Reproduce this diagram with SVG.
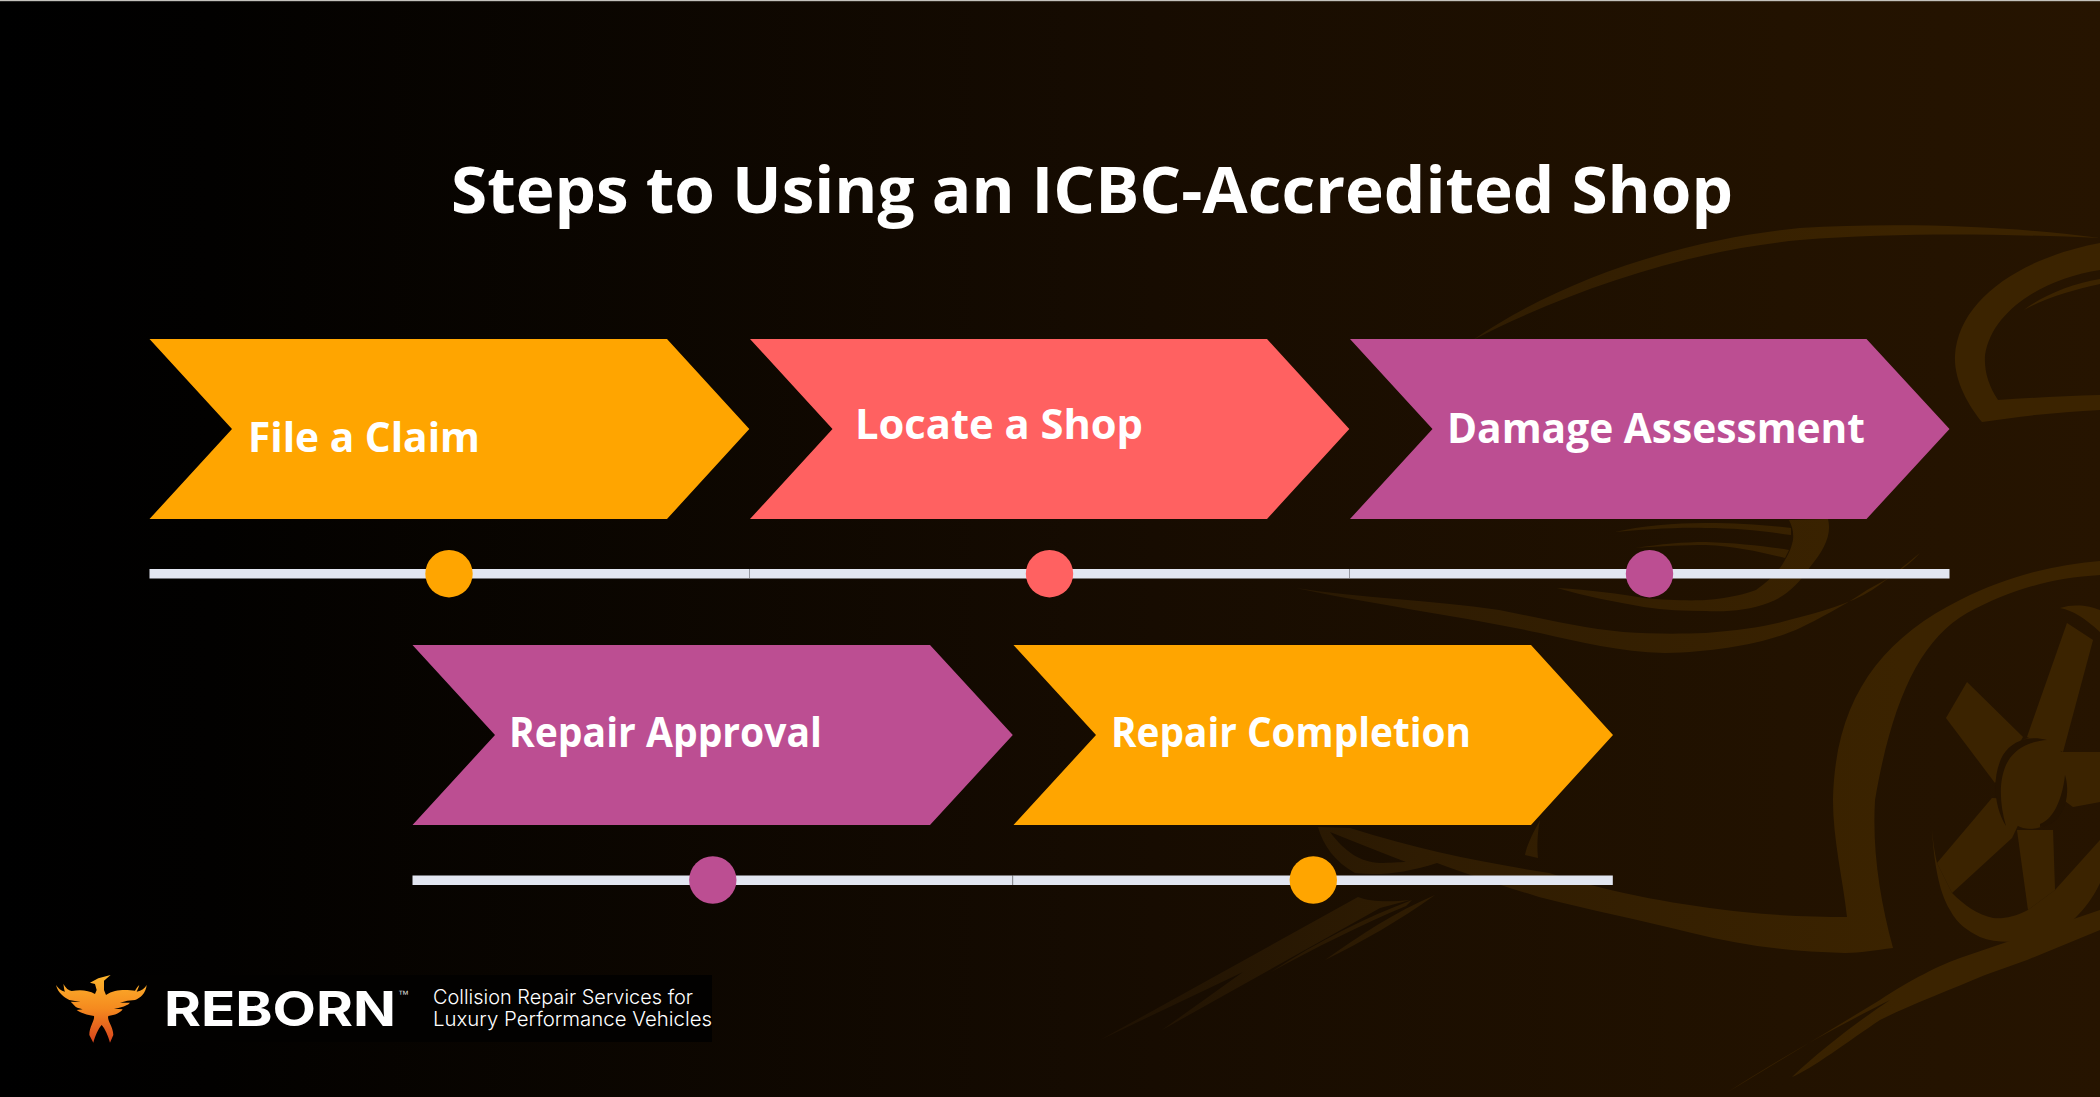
<svg xmlns="http://www.w3.org/2000/svg" width="2100" height="1097" viewBox="0 0 2100 1097">
<defs>
<linearGradient id="bg" x1="0" y1="0" x2="1" y2="0"><stop offset="0" stop-color="#000"/><stop offset=".1" stop-color="#020100"/><stop offset=".55" stop-color="#170c01"/><stop offset=".85" stop-color="#221200"/><stop offset="1" stop-color="#261400"/></linearGradient>
<linearGradient id="car" gradientUnits="userSpaceOnUse" x1="1100" y1="0" x2="1900" y2="0"><stop offset="0" stop-color="#1f1203"/><stop offset=".4" stop-color="#2f1c02"/><stop offset="1" stop-color="#3b2300"/></linearGradient>
<linearGradient id="fire" x1="0" y1="0" x2="0" y2="1"><stop offset="0" stop-color="#fdb52c"/><stop offset=".5" stop-color="#f58a1f"/><stop offset="1" stop-color="#d8431c"/></linearGradient>
<style>
.car{fill:url(#car)}
.gap{fill:#241300}
.amber{fill:#ffa500}
.coral{fill:#ff6161}
.plum{fill:#bc4e92}
.track{fill:#e2e6f1}
.seam{fill:#8d909a}
.lbl{font-family:"Open Sans","Noto Sans",sans-serif;font-weight:700;font-size:41px;fill:#fff}
.title{font-family:"Open Sans","Noto Sans",sans-serif;font-weight:700;font-size:64px;fill:#fff}
.brand{font-family:"Inter","Liberation Sans",sans-serif;font-weight:700;font-size:48px;fill:#fff}
.tag{font-family:"Inter","Liberation Sans",sans-serif;font-weight:300;font-size:20px;fill:#fff}
.tm{font-family:"Liberation Sans",sans-serif;font-size:11px;fill:#ddd}
</style>
</defs>
<rect width="2100" height="1097" fill="url(#bg)"/>
<rect width="2100" height="1.2" fill="#c4c2bd"/>
<g id="car-backdrop">
<path class="car" d="M1473 340C1560 280 1680 240 1800 228C1900 222 2010 226 2100 238C2010 234 1900 232 1800 240C1690 250 1570 290 1473 340Z"/>
<path class="car" d="M2100 243C2020 258 1958 300 1955 356C1954 380 1968 405 1982 422C2020 416 2060 412 2100 410L2100 395C2065 396 2030 398 1998 400C1988 385 1984 370 1985 355C1992 310 2045 278 2100 270Z"/>
<path class="car" d="M2024 310C2045 294 2072 284 2100 279L2100 284C2072 290 2045 298 2024 310Z"/>
<path class="car" d="M1296 588C1360 598 1430 600 1499 610C1540 618 1580 628 1623 632C1650 634 1680 634 1706 633C1740 630 1765 627 1789 620C1820 612 1850 604 1872 590C1890 578 1905 565 1920 553C1905 570 1885 580 1867 590C1840 608 1820 618 1800 628C1770 642 1720 652 1665 653C1620 652 1580 642 1540 633C1460 616 1370 604 1296 588Z"/>
<path class="car" d="M1557 588C1590 590 1620 594 1644 598C1665 600 1690 601 1706 600C1730 598 1745 594 1756 590C1770 580 1780 570 1785 560C1790 552 1792 545 1793 540C1794 532 1792 526 1789 520L1828 519C1832 535 1824 550 1810 567C1798 585 1785 597 1768 603C1750 610 1728 612 1706 611C1685 611 1665 610 1644 607C1615 602 1585 596 1557 588Z"/>
<path class="car" d="M1615 532C1640 526 1675 523 1706 523C1735 523 1765 525 1791 528L1791 535C1765 531 1735 528 1706 528C1675 527 1640 530 1615 532Z"/>
<path class="car" d="M1636 548C1660 544 1685 542 1706 542C1735 543 1765 546 1789 550L1785 558C1760 552 1735 546 1706 545C1685 545 1660 546 1636 548Z"/>
<path class="car" d="M1318 827L1350 828C1420 850 1480 862 1549 873C1620 895 1680 905 1743 912C1780 916 1815 917 1847 917C1843 880 1833 840 1833 800C1835 700 1880 640 1960 600C2010 575 2055 565 2100 561L2100 575C2050 578 2010 590 1967 613C1920 640 1892 700 1875 800C1872 850 1880 900 1893 948C1875 950 1860 953 1845 953C1790 952 1740 945 1692 933C1640 920 1590 910 1539 897C1500 885 1470 875 1437 863C1405 873 1380 876 1355 873C1335 862 1323 845 1318 827ZM1330 832C1345 852 1360 862 1380 863C1390 863 1400 862 1406 862C1380 852 1355 842 1330 832Z"/>
<path class="car" d="M1538 824C1532 835 1527 845 1525 855L1538 858C1537 848 1537 835 1540 820Z"/>
<path class="car" d="M1358 897L1100 1040L1243 972L1162 1030L1380 908L1410 900C1390 902 1370 902 1358 897Z"/>
<path class="car" d="M1271 972C1320 940 1365 918 1412 900L1406 906C1360 925 1315 948 1271 972Z"/>
<path class="car" d="M1325 960C1360 935 1395 912 1435 895C1400 920 1362 942 1325 960Z"/>
<path class="car" d="M1728 1092L1880 1000C1910 980 1940 965 1960 958L2100 910L2100 930L2027 960L1985 975C1950 990 1910 1005 1880 1020C1850 1040 1810 1070 1792 1077C1820 1050 1860 1020 1890 1000C1840 1025 1780 1058 1728 1092Z"/>
<path class="car" d="M2067 623L2093 640L2063 752L2027 737Z"/>
<path class="car" d="M1967 682L1946 718L1995 783L2023 737Z"/>
<path class="car" d="M1992 798L1937 863L1952 893L2012 838L2030 800Z"/>
<path class="car" d="M2017 830L2028 910L2055 890L2053 830Z"/>
<path class="car" d="M2060 752L2100 752L2100 802L2073 807L2050 790Z"/>
<path class="car" d="M1932 830C1934 860 1938 890 1950 910C1958 925 1967 930 1980 937C2000 945 2030 942 2050 935C2070 927 2090 905 2100 883L2100 840L2055 890L2028 910C2015 917 2003 919 1993 918C1978 915 1964 905 1952 893L1937 863C1934 850 1933 840 1932 830Z"/>
<path class="car" d="M2060 608C2075 603 2090 606 2100 610L2100 632C2085 618 2072 610 2060 608Z"/>
<ellipse class="car" cx="2033" cy="783" rx="36" ry="46" transform="rotate(8 2033 783)"/>
<path class="gap" d="M2047 740C2030 735 2012 740 2003 755C1992 775 1993 805 2006 826C1999 802 1998 775 2010 758C2020 745 2034 741 2047 740Z"/>
<path class="gap" d="M2065 775C2072 798 2062 825 2040 827L2040 824C2052 820 2062 802 2065 775Z"/>
</g>
<g id="title"><text class="title" x="451" y="213" textLength="1282" lengthAdjust="spacingAndGlyphs">Steps to Using an ICBC-Accredited Shop</text></g>
<g id="connectors">
<rect class="track" x="149.500" y="569" width="600" height="9.500"/>
<rect class="track" x="749.500" y="569" width="600" height="9.500"/>
<rect class="track" x="1349.500" y="569" width="600" height="9.500"/>
<rect class="seam" x="749.200" y="569" width=".7" height="9.500"/>
<rect class="seam" x="1349.200" y="569" width=".7" height="9.500"/>
<rect class="track" x="412.500" y="875.500" width="600" height="9.500"/>
<rect class="track" x="1012.800" y="875.500" width="600" height="9.500"/>
<rect class="seam" x="1012.500" y="875.500" width=".7" height="9.500"/>
</g>
<g id="step-file-claim">
<polygon class="amber" points="149.500,339 667,339 749.300,429 667,519 149.500,519 232,429"/>
<text class="lbl" x="248" y="451.500" textLength="232" lengthAdjust="spacingAndGlyphs">File a Claim</text>
<circle class="amber" cx="449" cy="573.700" r="23.700"/>
</g>
<g id="step-locate-shop">
<polygon class="coral" points="750,339 1267,339 1349.300,429 1267,519 750,519 832.500,429"/>
<text class="lbl" x="855" y="438.500" textLength="288" lengthAdjust="spacingAndGlyphs">Locate a Shop</text>
<circle class="coral" cx="1049.500" cy="573.700" r="23.700"/>
</g>
<g id="step-damage-assessment">
<polygon class="plum" points="1350,339 1866.500,339 1949.500,429 1866.500,519 1350,519 1432.500,429"/>
<text class="lbl" x="1447" y="442.500" textLength="418" lengthAdjust="spacingAndGlyphs">Damage Assessment</text>
<circle class="plum" cx="1649.500" cy="573.700" r="23.700"/>
</g>
<g id="step-repair-approval">
<polygon class="plum" points="412.500,645 930,645 1012.800,735 930,825 412.500,825 495,735"/>
<text class="lbl" x="509" y="746.500" textLength="313" lengthAdjust="spacingAndGlyphs">Repair Approval</text>
<circle class="plum" cx="712.800" cy="880" r="23.700"/>
</g>
<g id="step-repair-completion">
<polygon class="amber" points="1013.500,645 1531,645 1613,735 1531,825 1013.500,825 1096,735"/>
<text class="lbl" x="1111" y="746.500" textLength="360" lengthAdjust="spacingAndGlyphs">Repair Completion</text>
<circle class="amber" cx="1313.300" cy="880" r="23.700"/>
</g>
<g id="logo">
<rect x="130" y="975" width="582" height="67" fill="#020100"/>
<path fill="url(#fire)" transform="translate(40 960) scale(.3333)" d="M150 68L175 55L212 45L192 62L192 90L198 105C225 85 265 90 285 92C290 85 292 80 298 75C295 85 292 90 290 95C305 92 315 85 320 75C318 100 300 115 285 120L262 122L240 128L270 128C265 135 250 140 235 144L222 146L248 148C240 160 225 165 205 168C200 180 220 200 220 225L210 248C205 230 195 205 185 195C175 205 165 230 160 248L148 225C148 200 165 180 162 168C140 165 125 160 110 150L128 148L112 143C105 140 98 130 92 125L122 126L88 120C70 110 55 100 48 75C55 85 62 92 75 95C72 90 72 80 70 72C78 85 85 92 95 93C120 88 145 90 165 102L170 90L165 72Z"/>
<text class="brand" x="164" y="1026" textLength="232" lengthAdjust="spacingAndGlyphs">REBORN</text>
<text class="tm" x="398" y="998" textLength="11" lengthAdjust="spacingAndGlyphs">™</text>
<text class="tag" x="433" y="1004" textLength="260" lengthAdjust="spacingAndGlyphs">Collision Repair Services for</text>
<text class="tag" x="433" y="1026" textLength="279" lengthAdjust="spacingAndGlyphs">Luxury Performance Vehicles</text>
</g>
</svg>
